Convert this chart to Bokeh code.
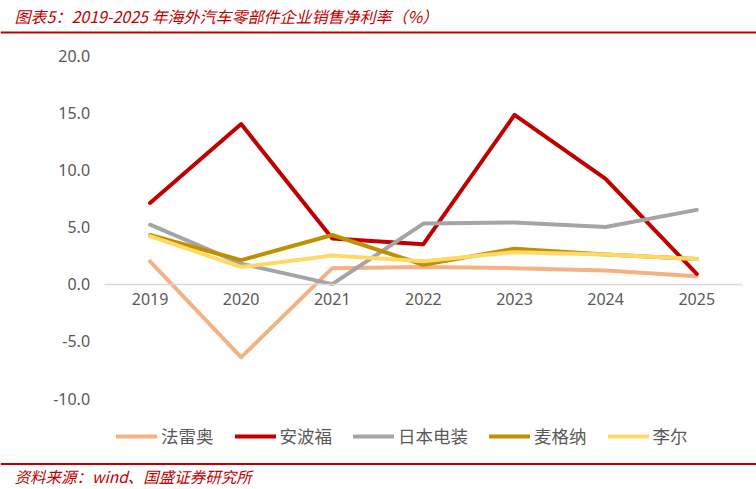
from bokeh.plotting import figure
from bokeh.models import (Range1d, FixedTicker, NumeralTickFormatter,
                          Label, BoxAnnotation, Legend, LegendItem, ColumnDataSource)
from bokeh.embed import file_html
from bokeh.resources import INLINE

years = [2019, 2020, 2021, 2022, 2023, 2024, 2025]
names = ["法雷奥", "安波福", "日本电装", "麦格纳", "李尔"]
faurecia = [2.0, -6.4, 1.4, 1.5, 1.4, 1.2, 0.7]
aptiv = [7.1, 14.0, 4.0, 3.5, 14.8, 9.2, 0.9]
denso = [5.2, 1.8, 0.0, 5.3, 5.4, 5.0, 6.5]
magna = [4.3, 2.1, 4.3, 1.7, 3.1, 2.6, 2.2]
lear = [4.2, 1.5, 2.5, 2.0, 2.8, 2.6, 2.2]
y_ticks = [-10, -5, 0, 5, 10, 15, 20]
colors = ["#F4B183", "#C00000", "#A5A5A5", "#BF9000", "#FFD966"]
title_text = "图表5：2019-2025 年海外汽车零部件企业销售净利率（%）"
source_text = "资料来源：wind、国盛证券研究所"

W, H = 756, 489
# plot area geometry (pixels)
px_left, px_right = 104.0, 741.8          # category band extent
px_y20, px_ym10 = 55.0, 398.0             # pixel rows of 20 and -10
step = (px_right - px_left) / len(years)
ppu = (px_ym10 - px_y20) / 30.0
x0 = years[0] - 0.5 - px_left / step
x1 = years[-1] + 0.5 + (W - px_right) / step
y_top = 20 + px_y20 / ppu
y_bot = -10 - (H - px_ym10) / ppu

p = figure(width=W, height=H, x_range=Range1d(x0, x1), y_range=Range1d(y_bot, y_top),
           output_backend="svg", toolbar_location=None,
           min_border=0, min_border_left=0, min_border_right=0,
           min_border_top=0, min_border_bottom=0)
p.outline_line_color = None
p.grid.visible = False
p.background_fill_color = "white"
p.border_fill_color = "white"

# y axis (no line, no ticks), labels right-aligned at x~90
p.yaxis.fixed_location = years[0]
p.yaxis.ticker = FixedTicker(ticks=y_ticks)
p.yaxis.formatter = NumeralTickFormatter(format="0.0")
p.yaxis.axis_line_color = None
p.yaxis.major_tick_line_color = None
p.yaxis.minor_tick_line_color = None
p.yaxis.major_tick_out = 0
p.yaxis.major_tick_in = 0
p.yaxis.major_label_standoff = int(round(px_left + step / 2 - 90))
p.yaxis.major_label_text_font = "Noto Sans"
p.yaxis.major_label_text_font_size = "16px"
p.yaxis.major_label_text_color = "#595959"

# x axis crossing at 0
p.xaxis.fixed_location = 0
p.xaxis.bounds = (years[0] - 0.5, years[-1] + 0.5)
p.xaxis.ticker = FixedTicker(ticks=years)
p.xaxis.formatter = NumeralTickFormatter(format="0")
p.xaxis.axis_line_color = "#D9D9D9"
p.xaxis.axis_line_width = 1.5
p.xaxis.major_tick_line_color = None
p.xaxis.minor_tick_line_color = None
p.xaxis.major_tick_out = 0
p.xaxis.major_tick_in = 0
p.xaxis.major_label_standoff = 9
p.xaxis.major_label_text_font = "Noto Sans"
p.xaxis.major_label_text_font_size = "16px"
p.xaxis.major_label_text_color = "#595959"

series = [faurecia, aptiv, denso, magna, lear]
items = []
for name, vals, c in zip(names, series, colors):
    src = ColumnDataSource(dict(x=years, y=vals))
    r = p.line("x", "y", source=src, line_color=c, line_width=4,
               line_join="round", line_cap="round")
    items.append(LegendItem(label=name, renderers=[r]))

legend = Legend(items=items, orientation="horizontal", location=(116, H - 448),
                border_line_color=None, background_fill_alpha=0,
                padding=0, margin=0, spacing=21, glyph_width=41, glyph_height=20,
                label_standoff=4, label_text_font="Noto Sans CJK SC",
                label_text_font_size="17.5px", label_text_color="#595959")
p.add_layout(legend, "center")

# title and rule
p.add_layout(Label(x=14, y=H - 15, x_units="screen", y_units="screen",
                   text=title_text, text_font="Noto Sans CJK SC", text_font_style="italic",
                   text_font_size="16px", text_color="#C00000", text_baseline="middle"))
p.add_layout(BoxAnnotation(left=0, right=W, top=H - 31, bottom=H - 33,
                           left_units="screen", right_units="screen", top_units="screen",
                           bottom_units="screen", fill_color="#C00000", fill_alpha=1,
                           line_color=None))
# footer rule and source
p.add_layout(BoxAnnotation(left=0, right=W, top=H - 462.5, bottom=H - 464.5,
                           left_units="screen", right_units="screen", top_units="screen",
                           bottom_units="screen", fill_color="#C00000", fill_alpha=1,
                           line_color=None))
p.add_layout(Label(x=14, y=H - 475, x_units="screen", y_units="screen",
                   text=source_text, text_font="Noto Sans CJK SC", text_font_style="italic",
                   text_font_size="15.5px", text_color="#C00000", text_baseline="middle"))

open("out.html", "w").write(file_html(p, INLINE))
